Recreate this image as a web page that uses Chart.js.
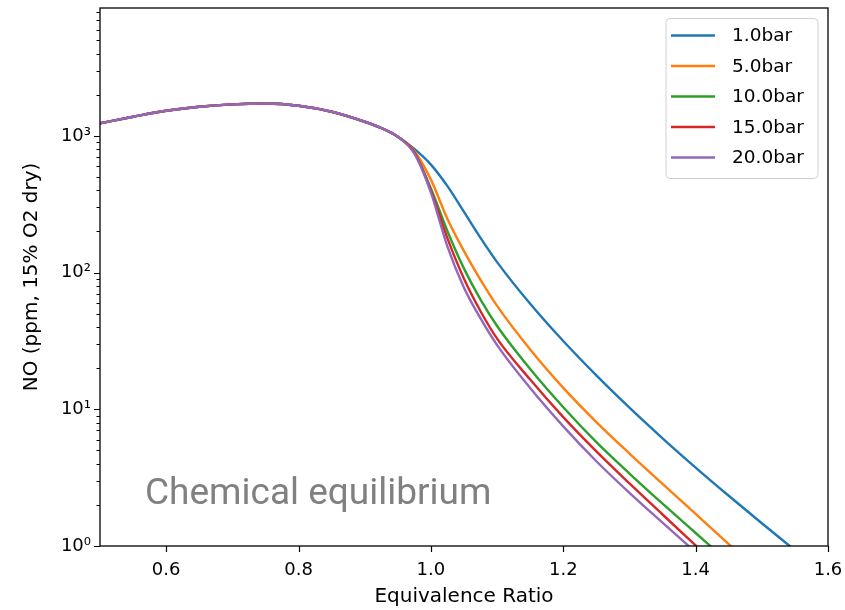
<!DOCTYPE html>
<html>
<head>
<meta charset="utf-8">
<title>NO equilibrium vs equivalence ratio</title>
<script src="https://cdn.jsdelivr.net/npm/chart.js@4/dist/chart.umd.min.js"></script>
<style>
  html, body { margin: 0; padding: 0; background: #fff; }
</style>
</head>
<body>
<canvas id="noChart" width="845" height="610"></canvas>
<script>
// Equivalence ratio grid shared by every curve
const phi = [0.50, 0.55, 0.60, 0.65, 0.70, 0.75, 0.80, 0.85, 0.90, 0.925, 0.95,
             0.975, 1.00, 1.025, 1.05, 1.075, 1.10, 1.15, 1.20, 1.25, 1.30,
             1.35, 1.40, 1.45, 1.50, 1.55, 1.60];

// lean side: all pressures sit on top of each other (phi 0.50 .. 0.95)
const leanSide = [1237, 1382, 1530, 1636, 1702, 1725, 1663, 1503, 1270, 1143, 987];

// rich side per pressure (phi 0.975 .. 1.60), null once below the axis
const rich1bar  = [804, 617, 429, 278, 179.5, 119.4, 59.2, 31.6, 17.7, 10.28, 6.14, 3.75, 2.33, 1.466, 0.931, null];
const rich5bar  = [776, 479, 247, 143.5, 88.5, 57.1, 27.4, 14.35, 8.07, 4.75, 2.85, 1.716, 1.034, 0.62, null, null];
const rich10bar = [759, 412, 201, 107, 63.4, 40.7, 19.7, 10.35, 5.75, 3.39, 2.04, 1.245, 0.76, null, null, null];
const rich15bar = [759, 398, 178, 90.2, 52.2, 32.9, 16.5, 8.76, 4.92, 2.87, 1.70, 1.01, 0.60, null, null, null];
const rich20bar = [741, 385, 155, 77.6, 46.2, 29.5, 14.3, 7.50, 4.17, 2.45, 1.48, 0.90, null, null, null, null];

const seriesLabels = ["1.0bar", "5.0bar", "10.0bar", "15.0bar", "20.0bar"];
const seriesColors = ["#1f77b4", "#ff7f0e", "#2ca02c", "#d62728", "#9467bd"];
const seriesRich = [rich1bar, rich5bar, rich10bar, rich15bar, rich20bar];

// axes
const xTicks = [0.6, 0.8, 1.0, 1.2, 1.4, 1.6];
const yMajorTicks = [1, 10, 100, 1000];
const yMinorTicks = [2, 3, 4, 5, 6, 7, 8, 9, 20, 30, 40, 50, 60, 70, 80, 90,
                     200, 300, 400, 500, 600, 700, 800, 900,
                     2000, 3000, 4000, 5000, 6000, 7000, 8000];
const xMin = 0.5, xMax = 1.6, yMin = 1, yMax = 8630;

const superscripts = ["\u2070", "\u00b9", "\u00b2", "\u00b3"];
const tickFont = { family: "'DejaVu Sans'", size: 18 };
const titleFont = { family: "'DejaVu Sans'", size: 20 };

function noScalePadding(scale) {
  scale.paddingLeft = 0;
  scale.paddingRight = 0;
  scale.paddingTop = 0;
  scale.paddingBottom = 0;
}

// Draws the frame, tick marks, legend and the text note
const frameAndLegend = {
  id: "frameAndLegend",
  afterDraw(chart) {
    const { ctx, chartArea: a, scales: { x, y } } = chart;
    ctx.save();

    // tick marks (outside, matplotlib style)
    ctx.strokeStyle = "#000";
    ctx.lineWidth = 1.2;
    ctx.beginPath();
    xTicks.forEach((v) => {
      const px = Math.round(x.getPixelForValue(v)) + 0.5;
      ctx.moveTo(px, a.bottom);
      ctx.lineTo(px, a.bottom + 6);
    });
    yMajorTicks.forEach((v) => {
      const py = Math.round(y.getPixelForValue(v)) + 0.5;
      ctx.moveTo(a.left, py);
      ctx.lineTo(a.left - 6, py);
    });
    yMinorTicks.filter((v) => v <= yMax).forEach((v) => {
      const py = Math.round(y.getPixelForValue(v)) + 0.5;
      ctx.moveTo(a.left, py);
      ctx.lineTo(a.left - 3.5, py);
    });
    ctx.stroke();

    // frame
    ctx.lineWidth = 1.3;
    ctx.strokeRect(a.left, a.top, a.right - a.left, a.bottom - a.top);

    // legend box
    const boxW = 152, boxH = 160;
    const boxX = a.right - 10 - boxW, boxY = a.top + 10.5;
    ctx.beginPath();
    ctx.roundRect(boxX, boxY, boxW, boxH, 4);
    ctx.fillStyle = "rgba(255,255,255,0.8)";
    ctx.fill();
    ctx.strokeStyle = "#d0d0d0";
    ctx.lineWidth = 1;
    ctx.stroke();

    ctx.font = "18.5px 'DejaVu Sans'";
    ctx.textBaseline = "middle";
    ctx.textAlign = "left";
    chart.data.datasets.forEach((ds, i) => {
      const rowY = boxY + 17 + i * 30.5;
      ctx.strokeStyle = ds.borderColor;
      ctx.lineWidth = 2.4;
      ctx.beginPath();
      ctx.moveTo(boxX + 5, rowY);
      ctx.lineTo(boxX + 49, rowY);
      ctx.stroke();
      ctx.fillStyle = "#000";
      ctx.fillText(ds.label, boxX + 66, rowY + 1);
    });

    // note inside the plot
    ctx.font = "37px Roboto";
    ctx.fillStyle = "#808080";
    ctx.textBaseline = "alphabetic";
    ctx.fillText("Chemical equilibrium", 145, 504);

    ctx.restore();
  },
};

const datasets = seriesLabels.map((label, i) => ({
  label: label,
  data: phi.map((p, j) => ({ x: p, y: j < leanSide.length ? leanSide[j] : seriesRich[i][j - leanSide.length] })),
  borderColor: seriesColors[i],
  backgroundColor: seriesColors[i],
  borderWidth: 2.4,
  pointRadius: 0,
  fill: false,
  cubicInterpolationMode: "monotone",
  order: seriesLabels.length - i,
  clip: 0,
}));

new Chart(document.getElementById("noChart").getContext("2d"), {
  type: "line",
  data: { datasets: datasets },
  options: {
    responsive: false,
    animation: false,
    devicePixelRatio: 1,
    layout: { padding: { top: 8, right: 17, left: 0, bottom: 0 } },
    plugins: {
      legend: { display: false },
      tooltip: { enabled: false },
    },
    scales: {
      x: {
        type: "linear",
        min: xMin,
        max: xMax,
        grid: { display: false, drawTicks: false },
        border: { display: false },
        afterBuildTicks: (scale) => {
          scale.ticks = xTicks.map((v) => ({ value: v }));
        },
        afterFit: (scale) => {
          scale.height = 64;
          noScalePadding(scale);
        },
        ticks: {
          autoSkip: false,
          maxRotation: 0,
          padding: 14,
          color: "#000",
          font: tickFont,
          callback: (value) => Number(value).toFixed(1),
        },
        title: {
          display: true,
          text: "Equivalence Ratio",
          color: "#000",
          font: titleFont,
          padding: { top: 0, bottom: 1 },
        },
      },
      y: {
        type: "logarithmic",
        min: yMin,
        max: yMax,
        grid: { display: false, drawTicks: false },
        border: { display: false },
        afterBuildTicks: (scale) => {
          scale.ticks = yMajorTicks.concat(yMinorTicks)
            .filter((v) => v <= yMax)
            .sort((p, q) => p - q)
            .map((v) => ({ value: v }));
        },
        afterFit: (scale) => {
          scale.width = 100;
          noScalePadding(scale);
        },
        ticks: {
          autoSkip: false,
          padding: 9,
          color: "#000",
          font: tickFont,
          callback: (value) => {
            const k = yMajorTicks.indexOf(value);
            return k >= 0 ? "10" + superscripts[k] : "";
          },
        },
        title: {
          display: true,
          text: "NO (ppm, 15% O2 dry)",
          color: "#000",
          font: titleFont,
          padding: { top: 20, bottom: 0 },
        },
      },
    },
  },
  plugins: [frameAndLegend],
});
</script>
</body>
</html>
